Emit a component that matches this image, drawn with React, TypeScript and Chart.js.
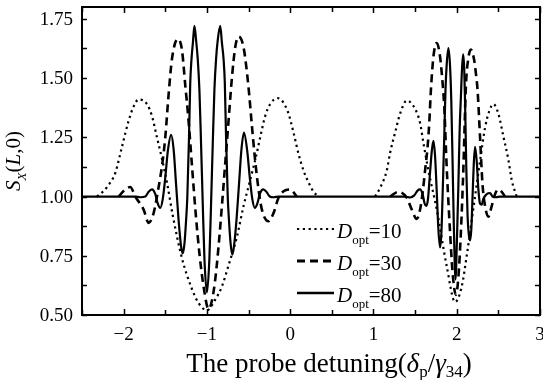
import React, { useEffect, useRef } from "react";
import { Chart, registerables } from "chart.js";

Chart.register(...registerables);

// ---- tick labels ----
const xTickValues = [-2, -1, 0, 1, 2, 3];
const yTickValues = [0.5, 0.75, 1.0, 1.25, 1.5, 1.75];

// ---- series: D_opt = 10 (dotted) ----
const d10X = [
  -2.32, -2.25, -2.2, -2.1, -2.02, -1.94, -1.88, -1.82, -1.72, -1.66, -1.6, -1.54, -1.48, -1.41, -1.3, -1.18, -1.1, -1.0,
  -0.9, -0.82, -0.74, -0.64, -0.56, -0.48, -0.4, -0.36, -0.3, -0.24, -0.15, -0.03, 0.04, 0.1, 0.16, 0.22, 0.28, 0.34,
  0.7,
  1.02, 1.08, 1.16, 1.2, 1.26, 1.32, 1.4, 1.5, 1.56, 1.6, 1.66, 1.76, 1.88, 1.98, 2.06, 2.12, 2.2, 2.28, 2.34, 2.39, 2.44,
  2.5, 2.56, 2.62, 2.66, 2.72,
];
const d10Y = [
  1.0, 1.02, 1.04, 1.1, 1.21, 1.32, 1.38, 1.41, 1.39, 1.34, 1.25, 1.16, 1.06, 0.92, 0.74, 0.61, 0.55, 0.52,
  0.565, 0.62, 0.71, 0.83, 0.96, 1.07, 1.185, 1.25, 1.34, 1.39, 1.415, 1.36, 1.27, 1.18, 1.11, 1.06, 1.02, 1.0,
  null,
  1.0, 1.037, 1.11, 1.185, 1.27, 1.35, 1.405, 1.37, 1.31, 1.226, 1.11, 0.945, 0.706, 0.555, 0.62, 0.75, 0.95, 1.15, 1.29, 1.36, 1.39,
  1.35, 1.254, 1.156, 1.07, 1.0,
];

// ---- series: D_opt = 30 (dashed) ----
const d30X = [
  -2.06, -1.98, -1.92, -1.86, -1.76, -1.7, -1.64, -1.585, -1.535, -1.5, -1.46, -1.42, -1.35, -1.3, -1.26, -1.225, -1.175,
  -1.135, -1.09, -1.04, -0.98, -0.94, -0.9, -0.86, -0.82, -0.78, -0.74, -0.7, -0.66, -0.62, -0.56, -0.5, -0.46, -0.42,
  -0.38, -0.34, -0.26, -0.2, -0.14, -0.08, 0.0, 0.08,
  0.6,
  1.2, 1.3, 1.4, 1.46, 1.52, 1.56, 1.59, 1.62, 1.65, 1.67, 1.69, 1.72, 1.76, 1.8, 1.83, 1.85, 1.88, 1.92, 1.95, 1.99, 2.02,
  2.05, 2.08, 2.11, 2.14, 2.17, 2.21, 2.23, 2.25, 2.28, 2.31, 2.34, 2.38, 2.42, 2.46, 2.5, 2.54, 2.58,
];
const d30Y = [
  1.0, 1.03, 1.04, 1.0, 0.945, 0.889, 0.93, 1.03, 1.14, 1.25, 1.43, 1.58, 1.665, 1.62, 1.47, 1.34, 1.11,
  0.93, 0.76, 0.62, 0.525, 0.56, 0.65, 0.79, 0.96, 1.14, 1.32, 1.5, 1.63, 1.675, 1.63, 1.46, 1.3, 1.15,
  1.03, 0.945, 0.896, 0.93, 0.995, 1.022, 1.03, 1.0,
  null,
  1.0, 1.02, 0.995, 0.945, 0.905, 0.945, 1.015, 1.11, 1.21, 1.31, 1.45, 1.59, 1.648, 1.59, 1.48, 1.38, 1.12, 0.85, 0.68, 0.585, 0.66,
  0.85, 1.12, 1.465, 1.585, 1.62, 1.575, 1.52, 1.45, 1.25, 1.05, 0.96, 0.915, 0.96, 1.01, 1.03, 1.02, 1.0,
];

// ---- series: D_opt = 80 (solid) ----
const d80X = [
  -2.5, -1.86, -1.8, -1.74, -1.7, -1.66, -1.62, -1.59, -1.56, -1.53, -1.5, -1.47, -1.43, -1.4, -1.37, -1.34, -1.31, -1.29,
  -1.27, -1.25, -1.235, -1.215, -1.2, -1.185, -1.168, -1.15, -1.13, -1.11, -1.09, -1.07, -1.05, -1.03, -1.0, -0.97, -0.95,
  -0.93, -0.91, -0.89, -0.87, -0.84, -0.82, -0.8, -0.785, -0.77, -0.75, -0.735, -0.715, -0.695, -0.675, -0.645, -0.615,
  -0.585, -0.555, -0.515, -0.485, -0.455, -0.425, -0.395, -0.365, -0.325, -0.285, -0.245, -0.2, -0.14,
  1.38, 1.44, 1.49, 1.53, 1.56, 1.59, 1.615, 1.635, 1.655, 1.675, 1.7, 1.72, 1.74, 1.76, 1.78, 1.8, 1.815, 1.83, 1.85, 1.865,
  1.88, 1.9, 1.92, 1.935, 1.95, 1.965, 1.985, 2.005, 2.02, 2.035, 2.05, 2.065, 2.077, 2.09, 2.1, 2.115, 2.13, 2.145, 2.16,
  2.175, 2.19, 2.205, 2.22, 2.24, 2.26, 2.28, 2.3, 2.32, 2.36, 2.4, 2.43, 2.47, 2.52, 3.0,
];
const d80Y = [
  1.0, 1.0, 0.997, 1.0, 1.02, 1.03, 1.01, 0.97, 0.952, 0.99, 1.08, 1.19, 1.26, 1.2, 1.05, 0.9, 0.79, 0.76,
  0.8, 0.9, 1.0, 1.25, 1.48, 1.58, 1.65, 1.72, 1.66, 1.58, 1.45, 1.22, 0.97, 0.74, 0.595, 0.74, 0.97,
  1.22, 1.45, 1.58, 1.66, 1.72, 1.65, 1.58, 1.48, 1.25, 1.0, 0.9, 0.8, 0.755, 0.79, 0.9, 1.05,
  1.2, 1.27, 1.19, 1.08, 0.99, 0.952, 0.97, 1.01, 1.03, 1.02, 1.0, 0.997, 1.0,
  1.0, 0.996, 1.005, 1.025, 1.03, 1.01, 0.97, 0.96, 0.99, 1.08, 1.19, 1.235, 1.17, 1.02, 0.86, 0.785, 0.84, 1.0, 1.25, 1.45,
  1.56, 1.627, 1.55, 1.4, 1.15, 0.88, 0.65, 0.85, 1.05, 1.28, 1.42, 1.55, 1.6, 1.54, 1.4, 1.12, 0.92, 0.84, 0.815,
  0.86, 1.0, 1.14, 1.21, 1.15, 1.03, 0.97, 0.966, 0.99, 1.01, 1.015, 1.0, 0.997, 1.0, 1.0,
];

const legendLabels = ["10", "30", "80"];

const SERIF = "'Liberation Serif', 'Times New Roman', serif";

function toPoints(xs: number[], ys: (number | null)[]) {
  return xs.map((x, i) => ({ x, y: ys[i] }));
}

type Part = { t: string; it?: boolean; sub?: boolean };

function partFont(p: Part, size: number) {
  const s = p.sub ? Math.round(size * 0.62) : size;
  return `${p.it ? "italic " : ""}${s}px ${SERIF}`;
}

function measureParts(ctx: CanvasRenderingContext2D, parts: Part[], size: number) {
  let w = 0;
  for (const p of parts) {
    ctx.font = partFont(p, size);
    w += ctx.measureText(p.t).width;
  }
  return w;
}

function drawParts(
  ctx: CanvasRenderingContext2D,
  parts: Part[],
  x: number,
  baseline: number,
  size: number,
  subShift = 0.28
) {
  let cx = x;
  ctx.textBaseline = "alphabetic";
  ctx.textAlign = "left";
  for (const p of parts) {
    ctx.font = partFont(p, size);
    ctx.fillText(p.t, cx, baseline + (p.sub ? size * subShift : 0));
    cx += ctx.measureText(p.t).width;
  }
}

const fmtX = (v: number) => (v < 0 ? "\u2212" + Math.abs(v) : String(v));

const decorPlugin = {
  id: "decor",
  afterDraw(chart: any) {
    const { ctx, chartArea } = chart;
    const { left, right, top, bottom } = chartArea;
    const xs = chart.scales.x;
    const ys = chart.scales.y;
    ctx.save();
    ctx.strokeStyle = "#000";
    ctx.fillStyle = "#000";
    // frame
    ctx.lineWidth = 2;
    ctx.setLineDash([]);
    ctx.strokeRect(left, top, right - left, bottom - top);
    // inward ticks
    ctx.lineWidth = 1.5;
    ctx.beginPath();
    for (let v = xs.min; v <= xs.max + 1e-9; v += 0.5) {
      const px = Math.round(xs.getPixelForValue(v)) + 0.5;
      const len = Math.abs(v - Math.round(v)) < 1e-9 ? 6 : 5;
      ctx.moveTo(px, bottom);
      ctx.lineTo(px, bottom - len);
      ctx.moveTo(px, top);
      ctx.lineTo(px, top + len);
    }
    for (let v = ys.min; v <= 1.75 + 1e-9; v += 0.125) {
      const py = Math.round(ys.getPixelForValue(v)) + 0.5;
      ctx.moveTo(left, py);
      ctx.lineTo(left + 5, py);
      ctx.moveTo(right, py);
      ctx.lineTo(right - 5, py);
    }
    ctx.stroke();

    // tick labels
    ctx.font = `19px ${SERIF}`;
    ctx.textBaseline = "middle";
    ctx.textAlign = "center";
    xTickValues.forEach((v) => {
      ctx.fillText(fmtX(v), xs.getPixelForValue(v), bottom + 20);
    });
    ctx.textAlign = "right";
    yTickValues.forEach((v) => {
      ctx.fillText(v.toFixed(2), left - 9, ys.getPixelForValue(v) + 1);
    });

    // legend
    const rows = [229, 261, 293];
    const dashes = [[2.2, 3.6], [8, 5], []];
    const widths = [2.2, 2.8, 2.4];
    legendLabels.forEach((lab, i) => {
      const y = rows[i];
      ctx.beginPath();
      ctx.setLineDash(dashes[i]);
      ctx.lineWidth = widths[i];
      ctx.moveTo(297, y);
      ctx.lineTo(334, y);
      ctx.stroke();
      ctx.setLineDash([]);
      drawParts(
        ctx,
        [
          { t: "D", it: true },
          { t: "opt", sub: true },
          { t: "=" + lab },
        ],
        337,
        y + 9,
        21
      );
    });

    // x title
    const xt: Part[] = [
      { t: "The probe detuning(" },
      { t: "δ", it: true },
      { t: "p", sub: true },
      { t: "/" },
      { t: "γ", it: true },
      { t: "34", sub: true },
      { t: ")" },
    ];
    const xSize = 27;
    const xw = measureParts(ctx, xt, xSize);
    drawParts(ctx, xt, 329 - xw / 2, 372, xSize, 0.2);

    // y title (rotated)
    const yt: Part[] = [
      { t: "S", it: true },
      { t: "X", it: true, sub: true },
      { t: "(" },
      { t: "L", it: true },
      { t: ",0)" },
    ];
    const ySize = 21;
    const yw = measureParts(ctx, yt, ySize);
    ctx.translate(13, (top + bottom) / 2);
    ctx.rotate(-Math.PI / 2);
    drawParts(ctx, yt, -yw / 2, 7, ySize);
    ctx.restore();
  },
};

export default function App() {
  const ref = useRef<HTMLCanvasElement | null>(null);
  useEffect(() => {
    if (!ref.current) return;
    const chart = new Chart(ref.current, {
      type: "line",
      data: {
        datasets: [
          {
            label: "D80",
            data: toPoints(d80X, d80Y) as any,
            borderColor: "#000",
            borderWidth: 2.2,
            pointRadius: 0,
            cubicInterpolationMode: "monotone",
            fill: false,
            order: 0,
          },
          {
            label: "D30",
            data: toPoints(d30X, d30Y) as any,
            borderColor: "#000",
            borderWidth: 2.6,
            borderDash: [8, 5],
            pointRadius: 0,
            cubicInterpolationMode: "monotone",
            spanGaps: false,
            fill: false,
            order: 1,
          },
          {
            label: "D10",
            data: toPoints(d10X, d10Y) as any,
            borderColor: "#000",
            borderWidth: 2.2,
            borderDash: [2.2, 3.6],
            pointRadius: 0,
            cubicInterpolationMode: "monotone",
            spanGaps: false,
            fill: false,
            order: 2,
          },
        ],
      },
      options: {
        responsive: false,
        devicePixelRatio: 1,
        animation: false,
        events: [],
        layout: { padding: { top: 7, right: 3, left: 0, bottom: 0 } },
        plugins: {
          legend: { display: false },
          tooltip: { enabled: false },
          title: { display: false },
        },
        scales: {
          x: {
            type: "linear",
            min: -2.5,
            max: 3,
            grid: { display: false, drawTicks: false },
            border: { display: false },
            ticks: { display: false },
            afterFit: (s: any) => {
              s.height = 65;
            },
          },
          y: {
            type: "linear",
            min: 0.5,
            max: 1.8,
            grid: { display: false, drawTicks: false },
            border: { display: false },
            ticks: { display: false },
            afterFit: (s: any) => {
              s.width = 82;
            },
          },
        },
      },
      plugins: [decorPlugin],
    });
    return () => chart.destroy();
  }, []);
  return (
    <div style={{ position: "absolute", left: 0, top: 0, width: 543, height: 380, background: "#fff" }}>
      <canvas ref={ref} width={543} height={380} style={{ display: "block" }} />
    </div>
  );
}
